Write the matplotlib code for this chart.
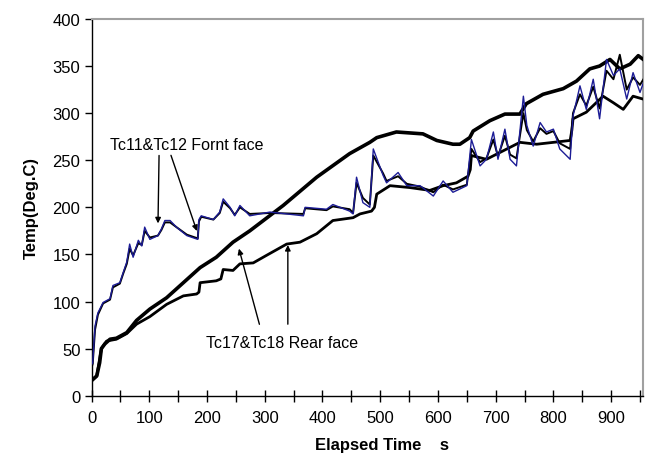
import numpy as np
import matplotlib
matplotlib.use("Agg")
import matplotlib.pyplot as plt

plt.rcParams["font.family"] = ["Liberation Sans", "DejaVu Sans"]

# front face, Tc11 (blue)
t_tc11 = [0, 2, 6, 11, 20, 32, 37, 49, 55, 61, 66, 72, 81, 87, 92, 101, 115, 121, 127, 136,
          147, 165, 184, 186, 190, 211, 222, 228, 240, 248, 257, 274, 309, 367, 370, 407, 418,
          447, 453, 459, 470, 482, 488, 505, 511, 531, 546, 569, 592, 609, 626, 650, 658, 673,
          684, 696, 704, 716, 725, 736, 748, 754, 765, 777, 788, 800, 811, 829, 834, 846, 857,
          869, 880, 892, 904, 915, 927, 938, 950, 958]
T_tc11 = [33, 35, 74, 88, 99, 103, 117, 120, 131, 142, 161, 147, 165, 159, 179, 166, 170, 177, 186, 186,
          179, 170, 166, 187, 191, 187, 195, 209, 200, 191, 202, 191, 195, 191, 200, 198, 203,
          196, 193, 232, 205, 200, 262, 234, 226, 237, 223, 223, 212, 228, 216, 223, 272, 244,
          251, 280, 251, 283, 251, 244, 318, 287, 265, 290, 280, 283, 262, 251, 297, 329, 304,
          336, 294, 357, 340, 347, 315, 343, 322, 336]

# front face, Tc12 (black)
t_tc12 = [0, 2, 6, 11, 20, 32, 37, 49, 55, 61, 66, 72, 81, 87, 92, 101, 115, 121, 127, 136,
          147, 165, 184, 186, 190, 211, 222, 228, 240, 248, 257, 274, 309, 367, 370, 407, 418,
          447, 453, 459, 470, 482, 488, 505, 511, 531, 546, 569, 592, 609, 626, 650, 658, 673,
          684, 696, 704, 716, 725, 736, 748, 754, 765, 777, 788, 800, 811, 829, 834, 846, 857,
          869, 880, 892, 904, 915, 927, 938, 950, 958]
T_tc12 = [30, 34, 70, 86, 98, 102, 115, 119, 130, 140, 156, 149, 162, 160, 175, 168, 170, 176, 184, 184,
          179, 171, 167, 185, 190, 187, 194, 206, 199, 192, 200, 193, 194, 193, 199, 197, 201,
          198, 194, 226, 210, 203, 255, 236, 228, 233, 225, 222, 216, 224, 219, 224, 262, 248,
          252, 272, 254, 276, 256, 252, 300, 282, 270, 284, 278, 281, 268, 262, 300, 320, 308,
          328, 305, 345, 336, 362, 325, 338, 330, 338]

# rear face, Tc17 (thick black)
t_tc17 = [0, 9, 14, 17, 23, 32, 43, 61, 78, 101, 130, 159, 188, 216, 245, 274, 332, 390, 447,
          482, 494, 528, 574, 598, 626, 638, 655, 661, 690, 716, 742, 753, 782, 817, 840, 863,
          880, 898, 915, 933, 947, 958]
T_tc17 = [16, 21, 35, 50, 55, 60, 61, 67, 80, 92, 104, 120, 136, 147, 163, 175, 202, 232, 257,
          269, 274, 280, 278, 271, 267, 267, 274, 281, 292, 299, 299, 310, 320, 326, 334, 347,
          350, 357, 347, 352, 361, 356]

# rear face, Tc18 (ragged black)
t_tc18 = [0, 9, 17, 26, 43, 61, 78, 101, 130, 159, 182, 186, 188, 216, 224, 228, 245, 257, 280,
          303, 338, 361, 390, 418, 453, 465, 485, 490, 494, 517, 551, 586, 609, 632, 652, 656,
          658, 684, 742, 771, 800, 829, 832, 834, 857, 886, 904, 921, 938, 955]
T_tc18 = [16, 21, 50, 58, 60, 66, 76, 84, 97, 106, 108, 110, 120, 122, 124, 134, 133, 140, 141,
          149, 161, 163, 172, 186, 189, 193, 196, 200, 214, 223, 221, 218, 223, 226, 233, 240,
          255, 251, 269, 267, 269, 271, 282, 294, 301, 318, 311, 304, 318, 315]

x_major = list(range(0, 1000, 100))
x_minor = list(range(50, 1000, 100))
y_major = list(range(0, 401, 50))

fig = plt.figure(figsize=(6.54, 4.64), dpi=100)
ax = fig.add_axes([0.140, 0.145, 0.843, 0.812])

ax.plot(t_tc18, T_tc18, color="black", lw=2.0, zorder=3)
ax.plot(t_tc17, T_tc17, color="black", lw=2.6, zorder=4)
ax.plot(t_tc12, T_tc12, color="black", lw=1.4, zorder=5)
ax.plot(t_tc11, T_tc11, color="#1c1c96", lw=1.0, zorder=6)

ax.set_xlim(0, 955)
ax.set_ylim(0, 400)
ax.set_xticks(x_major)
ax.set_xticks(x_minor, minor=True)
ax.set_yticks(y_major)
ax.tick_params(axis="x", which="both", direction="inout", length=9, width=1,
               labelsize=12, pad=6)
ax.tick_params(axis="y", direction="out", length=5, width=1, labelsize=12, pad=3)

for s in ("top", "right"):
    ax.spines[s].set_color("#a0a0a0")
    ax.spines[s].set_linewidth(1.5)
for s in ("left", "bottom"):
    ax.spines[s].set_linewidth(1.0)

ax.set_xlabel("Elapsed Time    s", fontsize=12, fontweight="bold")
ax.xaxis.set_label_coords(0.527, -0.11)
ax.set_ylabel("Temp(Deg.C)", fontsize=12, fontweight="bold", labelpad=10)

arrow = dict(arrowstyle="-|>", color="black", lw=1.0, mutation_scale=8)
ax.annotate("Tc11&Tc12 Fornt face", xy=(115, 180), xytext=(32, 267),
            fontsize=11.5, va="center", ha="left")
ax.annotate("", xy=(115, 180), xytext=(117, 258), arrowprops=arrow)
ax.annotate("", xy=(184, 172), xytext=(136, 258), arrowprops=arrow)

ax.text(199, 57, "Tc17&Tc18 Rear face", fontsize=11.5, va="center", ha="left")
ax.annotate("", xy=(254, 159), xytext=(292, 73), arrowprops=arrow)
ax.annotate("", xy=(340, 163), xytext=(340, 73), arrowprops=arrow)

plt.savefig("out.png", dpi=100)
